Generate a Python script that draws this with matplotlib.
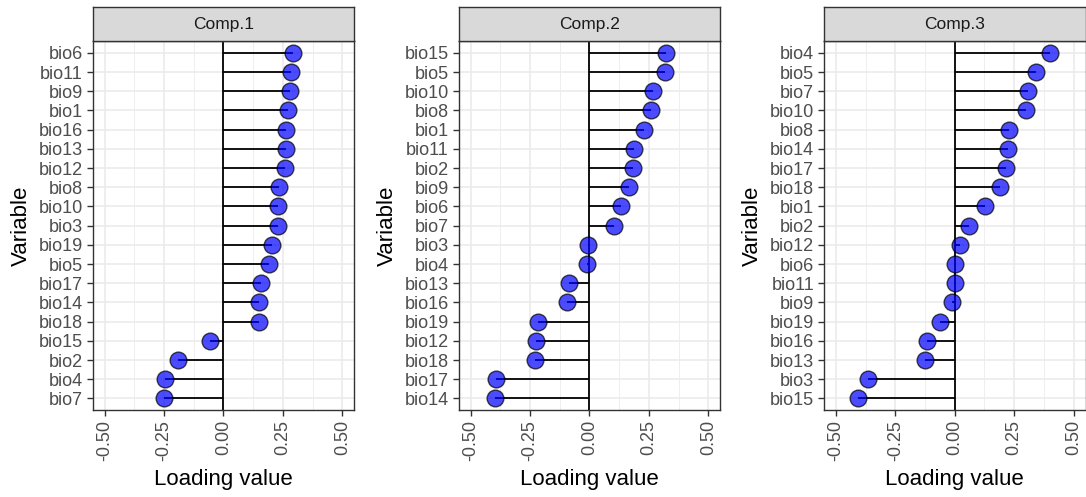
import numpy as np
import matplotlib.pyplot as plt
import matplotlib as mpl
mpl.rcParams['font.family'] = ['Liberation Sans', 'DejaVu Sans']

#
# Loadings per component (top to bottom as shown)
#
comp1_vars = ['bio6', 'bio11', 'bio9', 'bio1', 'bio16', 'bio13', 'bio12', 'bio8',
              'bio10', 'bio3', 'bio19', 'bio5', 'bio17', 'bio14', 'bio18',
              'bio15', 'bio2', 'bio4', 'bio7']
comp1_vals = [0.292, 0.286, 0.279, 0.272, 0.265, 0.262, 0.260, 0.234,
              0.231, 0.230, 0.205, 0.192, 0.160, 0.149, 0.148,
              -0.058, -0.192, -0.247, -0.251]

comp2_vars = ['bio15', 'bio5', 'bio10', 'bio8', 'bio1', 'bio11', 'bio2', 'bio9',
              'bio6', 'bio7', 'bio3', 'bio4', 'bio13', 'bio16', 'bio19',
              'bio12', 'bio18', 'bio17', 'bio14']
comp2_vals = [0.321, 0.318, 0.266, 0.261, 0.230, 0.188, 0.183, 0.166,
              0.131, 0.102, -0.008, -0.011, -0.086, -0.095, -0.216,
              -0.225, -0.229, -0.395, -0.396]

comp3_vars = ['bio4', 'bio5', 'bio7', 'bio10', 'bio8', 'bio14', 'bio17', 'bio18',
              'bio1', 'bio2', 'bio12', 'bio6', 'bio11', 'bio9', 'bio19',
              'bio16', 'bio13', 'bio3', 'bio15']
comp3_vals = [0.402, 0.342, 0.310, 0.300, 0.230, 0.223, 0.216, 0.190,
              0.126, 0.059, 0.024, 0.003, 0.000, -0.011, -0.064,
              -0.115, -0.127, -0.364, -0.409]

panels = [('Comp.1', comp1_vars, comp1_vals),
          ('Comp.2', comp2_vars, comp2_vals),
          ('Comp.3', comp3_vars, comp3_vals)]

W, H = 1086, 497
fig = plt.figure(figsize=(W / 100, H / 100), dpi=100)

lefts = [92.7, 458.7, 824.0]
pw = 261.5
top_px, bot_px, strip_top = 41.3, 410.0, 7.0
grey20 = '#333333'

for (title, names, vals), lp in zip(panels, lefts):
    ax = fig.add_axes([lp / W, 1 - bot_px / H, pw / W, (bot_px - top_px) / H])
    n = len(names)
    y = np.arange(n)[::-1] + 1
    ax.set_xlim(-0.55, 0.55)
    ax.set_ylim(0.4, n + 0.6)
    # grid
    for gx in [-0.375, -0.125, 0.125, 0.375]:
        ax.axvline(gx, color='#EBEBEB', lw=0.6, zorder=0)
    for gx in [-0.5, -0.25, 0.0, 0.25, 0.5]:
        ax.axvline(gx, color='#EBEBEB', lw=1.2, zorder=0)
    for gy in y:
        ax.axhline(gy, color='#EBEBEB', lw=1.2, zorder=0)
    ax.axvline(0, color='black', lw=1.3, zorder=1)
    ax.hlines(y, 0, vals, color='black', lw=1.3, zorder=2)
    ax.scatter(vals, y, s=145, facecolor='blue', edgecolor='black',
               linewidths=1.0, alpha=0.7, zorder=3)
    ax.set_yticks(y)
    ax.set_yticklabels(names)
    ax.set_xticks([-0.5, -0.25, 0.0, 0.25, 0.5])
    ax.set_xticklabels(['-0.50', '-0.25', '0.00', '0.25', '0.50'], rotation=90)
    ax.tick_params(axis='both', colors=grey20, labelcolor='#4D4D4D',
                   labelsize=13, length=4, width=1.0, pad=3)
    for s in ax.spines.values():
        s.set_color(grey20)
        s.set_linewidth(1.0)
    ax.set_xlabel('Loading value', fontsize=16, labelpad=6)
    ax.set_ylabel('Variable', fontsize=16, labelpad=5)

    sax = fig.add_axes([lp / W, 1 - top_px / H, pw / W, (top_px - strip_top) / H])
    sax.set_facecolor('#D9D9D9')
    sax.set_xticks([])
    sax.set_yticks([])
    for s in sax.spines.values():
        s.set_color(grey20)
        s.set_linewidth(1.0)
    sax.text(0.5, 0.5, title, ha='center', va='center', fontsize=12.5,
             color='#1A1A1A', transform=sax.transAxes)

fig.savefig('out.png', dpi=100)
